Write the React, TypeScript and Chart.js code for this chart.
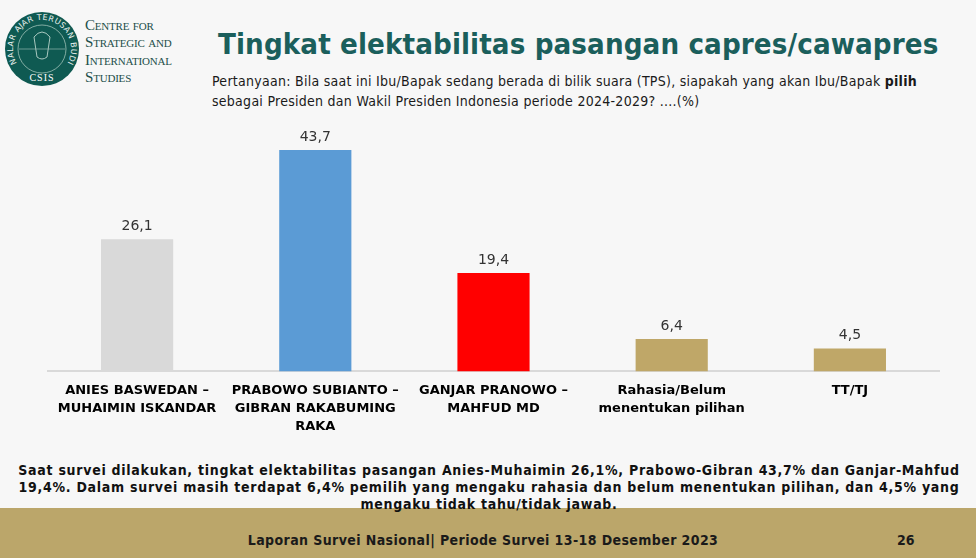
import React, { useEffect, useRef } from "react";
import { Chart, registerables } from "chart.js";

Chart.register(...registerables);

const categories: string[][] = [
  ["ANIES BASWEDAN –", "MUHAIMIN ISKANDAR"],
  ["PRABOWO SUBIANTO –", "GIBRAN RAKABUMING", "RAKA"],
  ["GANJAR PRANOWO –", "MAHFUD MD"],
  ["Rahasia/Belum", "menentukan pilihan"],
  ["TT/TJ"],
];
const values: number[] = [26.1, 43.7, 19.4, 6.4, 4.5];
const barColors: string[] = ["#d9d9d9", "#5b9bd5", "#ff0000", "#bfa768", "#bfa768"];

const valueLabelPlugin = {
  id: "valueLabels",
  afterDatasetsDraw(chart: any) {
    const ctx = chart.ctx;
    const meta = chart.getDatasetMeta(0);
    ctx.save();
    ctx.font = "14px 'DejaVu Sans', Verdana, sans-serif";
    ctx.fillStyle = "#333333";
    ctx.textAlign = "center";
    ctx.textBaseline = "bottom";
    meta.data.forEach((bar: any, i: number) => {
      const txt = values[i].toFixed(1).replace(".", ",");
      ctx.fillText(txt, bar.x, bar.y - 6);
    });
    ctx.restore();
  },
};

function Logo() {
  return (
    <svg width="80" height="80" viewBox="0 0 80 80" style={{ position: "absolute", left: 2, top: 9 }}>
      <defs>
        <path id="arcTop" d="M 19.5 60.5 A 29 29 0 1 1 60.5 60.5" />
      </defs>
      <circle cx="40" cy="40" r="37" fill="#0f5a52" />
      <circle cx="40" cy="40" r="24" fill="none" stroke="#9fc1b8" strokeWidth="0.8" />
      <text fill="#e8f0ec" fontSize="8" fontFamily="'DejaVu Sans', sans-serif" letterSpacing="0.4">
        <textPath href="#arcTop" startOffset="50%" textAnchor="middle">NALAR AJAR TERUSAN BUDI</textPath>
      </text>
      <path d="M 32 28 Q 40 18 48 28 L 45 48 Q 40 52 35 48 Z" fill="none" stroke="#a8c8bf" strokeWidth="1" />
      <line x1="17" y1="40" x2="63" y2="40" stroke="#a8c8bf" strokeWidth="0.6" />
      <text x="40" y="72" fill="#ffffff" fontSize="10" fontFamily="'Liberation Serif', serif" textAnchor="middle" letterSpacing="1">CSIS</text>
    </svg>
  );
}

export default function App() {
  const canvasRef = useRef<HTMLCanvasElement | null>(null);

  useEffect(() => {
    document.body.style.margin = "0";
    const canvas = canvasRef.current;
    if (!canvas) return;
    const chart = new Chart(canvas, {
      type: "bar",
      data: {
        labels: categories,
        datasets: [
          {
            data: values,
            backgroundColor: barColors,
            borderWidth: 0,
            barPercentage: 0.405,
            categoryPercentage: 1,
          },
        ],
      },
      options: {
        animation: false,
        responsive: false,
        maintainAspectRatio: false,
        layout: { padding: { left: 48, right: 37, top: 8, bottom: 0 } },
        plugins: { legend: { display: false }, tooltip: { enabled: false } },
        scales: {
          y: { display: false, min: 0, max: 50 },
          x: {
            grid: { display: false, drawTicks: false },
            border: { display: true, color: "#d9d9d9", width: 2 },
            ticks: {
              color: "#000000",
              padding: 10,
              maxRotation: 0,
              autoSkip: false,
              font: { family: "'DejaVu Sans', Verdana, sans-serif", size: 13, weight: "bold", lineHeight: 1.4 },
            },
          },
        },
      },
      plugins: [valueLabelPlugin],
    });
    return () => chart.destroy();
  }, []);

  const condensed = "'DejaVu Sans Condensed', 'DejaVu Sans', sans-serif";

  return (
    <div style={{ position: "fixed", left: 0, top: 0, width: 976, height: 558, background: "#f7f7f7", overflow: "hidden" }}>
      <Logo />
      <div
        style={{
          position: "absolute",
          left: 85,
          top: 17,
          fontFamily: "'Liberation Serif', serif",
          fontVariant: "small-caps",
          fontSize: 15,
          lineHeight: "17.3px",
          color: "#1d4f4a",
          letterSpacing: "-0.2px",
        }}
      >
        Centre for
        <br />
        Strategic and
        <br />
        International
        <br />
        Studies
      </div>
      <div
        style={{
          position: "absolute",
          left: 218,
          top: 27,
          fontFamily: condensed,
          fontWeight: "bold",
          fontSize: 29.2,
          color: "#1b5f5c",
          whiteSpace: "nowrap",
          letterSpacing: "0.1px",
        }}
      >
        Tingkat elektabilitas pasangan capres/cawapres
      </div>
      <div
        style={{
          position: "absolute",
          left: 212,
          top: 71,
          fontFamily: condensed,
          fontSize: 14,
          lineHeight: "20px",
          color: "#1a1a1a",
          whiteSpace: "nowrap",
          letterSpacing: "0.27px",
        }}
      >
        Pertanyaan: Bila saat ini Ibu/Bapak sedang berada di bilik suara (TPS), siapakah yang akan Ibu/Bapak <b>pilih</b>
        <br />
        sebagai Presiden dan Wakil Presiden Indonesia periode 2024-2029? ....(%)
      </div>
      <canvas ref={canvasRef} width={976} height={336} style={{ position: "absolute", left: 0, top: 110, width: 976, height: 336 }} />
      <div style={{ position: "absolute", left: 0, top: 508, width: 976, height: 50, background: "#bba66a" }} />
      <div
        style={{
          position: "absolute",
          left: 0,
          top: 462,
          width: 978,
          textAlign: "center",
          fontFamily: condensed,
          fontWeight: "bold",
          fontSize: 14,
          lineHeight: "17px",
          color: "#111111",
          letterSpacing: "0.72px",
          whiteSpace: "nowrap",
        }}
      >
        Saat survei dilakukan, tingkat elektabilitas pasangan Anies-Muhaimin 26,1%, Prabowo-Gibran 43,7% dan Ganjar-Mahfud
        <br />
        19,4%. Dalam survei masih terdapat 6,4% pemilih yang mengaku rahasia dan belum menentukan pilihan, dan 4,5% yang
        <br />
        mengaku tidak tahu/tidak jawab.
      </div>
      <div
        style={{
          position: "absolute",
          left: 0,
          top: 532,
          width: 966,
          textAlign: "center",
          fontFamily: condensed,
          fontWeight: "bold",
          fontSize: 14,
          color: "#1a1a1a",
          letterSpacing: "0.4px",
        }}
      >
        Laporan Survei Nasional| Periode Survei 13-18 Desember 2023
      </div>
      <div
        style={{
          position: "absolute",
          left: 897,
          top: 532,
          fontFamily: condensed,
          fontWeight: "bold",
          fontSize: 14,
          color: "#1a1a1a",
        }}
      >
        26
      </div>
    </div>
  );
}
